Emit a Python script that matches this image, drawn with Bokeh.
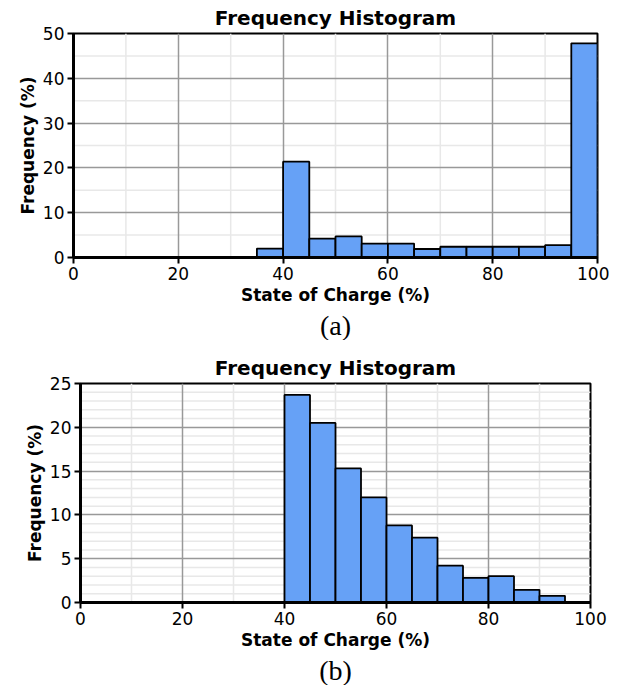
from bokeh.plotting import figure
from bokeh.layouts import column, row, Spacer
from bokeh.models import Title, FixedTicker, Range1d
from bokeh.embed import file_html
from bokeh.resources import INLINE

# ---------------- data ----------------
bin_width = 5
a_edges = [35, 40, 45, 50, 55, 60, 65, 70, 75, 80, 85, 90, 95]
a_freq = [2.0, 21.4, 4.2, 4.7, 3.1, 3.1, 1.9, 2.4, 2.4, 2.4, 2.4, 2.75, 47.8]

b_edges = [40, 45, 50, 55, 60, 65, 70, 75, 80, 85, 90]
b_freq = [23.7, 20.5, 15.3, 12.0, 8.8, 7.4, 4.2, 2.8, 3.0, 1.45, 0.76]

x_ticks = [0, 20, 40, 60, 80, 100]
x_minor = [10, 30, 50, 70, 90]
a_yticks = [0, 10, 20, 30, 40, 50]
a_yminor = [5, 15, 25, 35, 45]
b_yticks = [0, 5, 10, 15, 20, 25]
b_yminor = [v for v in range(0, 26) if v % 5 != 0]

title_text = "Frequency Histogram"
xlabel = "State of Charge (%)"
ylabel = "Frequency (%)"

BAR = "#66a1f6"
FONT = "DejaVu Sans"


def make(edges, freq, ymax, yticks, yminor, sub, fw, fh, left, right,
         title_standoff):
    p = figure(frame_width=fw, frame_height=fh, output_backend="svg",
               toolbar_location=None, x_range=Range1d(0, 100),
               y_range=Range1d(0, ymax),
               min_border_left=left, min_border_right=right,
               min_border_top=0, min_border_bottom=0)
    p.title.text = title_text
    p.title.align = "center"
    p.title.text_font = FONT
    p.title.text_font_size = "20px"
    p.title.text_font_style = "bold"
    p.title.text_color = "black"
    p.title.standoff = title_standoff
    p.title.offset = 0

    sub_t = Title(text=sub, align="center", text_font="Liberation Serif",
                  text_font_size="28px", text_font_style="normal",
                  text_color="black", standoff=0)
    p.add_layout(sub_t, "below")

    p.xgrid.ticker = FixedTicker(ticks=x_ticks)
    p.ygrid.ticker = FixedTicker(ticks=yticks)
    p.xaxis.ticker = FixedTicker(ticks=x_ticks)
    p.yaxis.ticker = FixedTicker(ticks=yticks)
    p.xgrid.grid_line_color = "#999999"
    p.ygrid.grid_line_color = "#999999"
    p.xgrid.grid_line_width = 1.5
    p.ygrid.grid_line_width = 1.5

    # light minor grid lines
    for xv in x_minor:
        p.segment(x0=[xv], y0=[0], x1=[xv], y1=[ymax], line_color="#e8e8e8",
                  line_width=1.5, level="underlay")
    for yv in yminor:
        p.segment(x0=[0], y0=[yv], x1=[100], y1=[yv], line_color="#e8e8e8",
                  line_width=1.5, level="underlay")

    p.quad(left=edges, right=[e + bin_width for e in edges], bottom=0,
           top=freq, fill_color=BAR, line_color="black", line_width=1.8)

    for ax in (p.xaxis, p.yaxis):
        ax.axis_line_color = "black"
        ax.axis_line_width = 3
        ax.major_tick_line_color = "black"
        ax.major_tick_line_width = 2
        ax.major_tick_out = 6
        ax.major_tick_in = 0
        ax.minor_tick_line_color = None
        ax.major_label_text_font = FONT
        ax.major_label_text_font_size = "17px"
        ax.major_label_text_color = "black"
        ax.axis_label_text_font = FONT
        ax.axis_label_text_font_size = "17px"
        ax.axis_label_text_font_style = "bold"
        ax.axis_label_text_color = "black"
        ax.major_label_standoff = 3
        ax.axis_label_standoff = 2
    p.xaxis.axis_label = xlabel
    p.yaxis.axis_label = ylabel

    p.outline_line_color = "black"
    p.outline_line_width = 2
    p.outline_line_alpha = 1
    p.background_fill_color = "white"
    p.border_fill_color = "white"
    return p


pa = make(a_edges, a_freq, 50, a_yticks, a_yminor, "(a)", 524, 224,
          73, 12, 7)
pb = make(b_edges, b_freq, 25, b_yticks, b_yminor, "(b)", 510, 219,
          72, 20, 8)

layout = column(pa, row(Spacer(width=8), pb, spacing=0), spacing=9)
open("out.html", "w").write(file_html(layout, INLINE))
